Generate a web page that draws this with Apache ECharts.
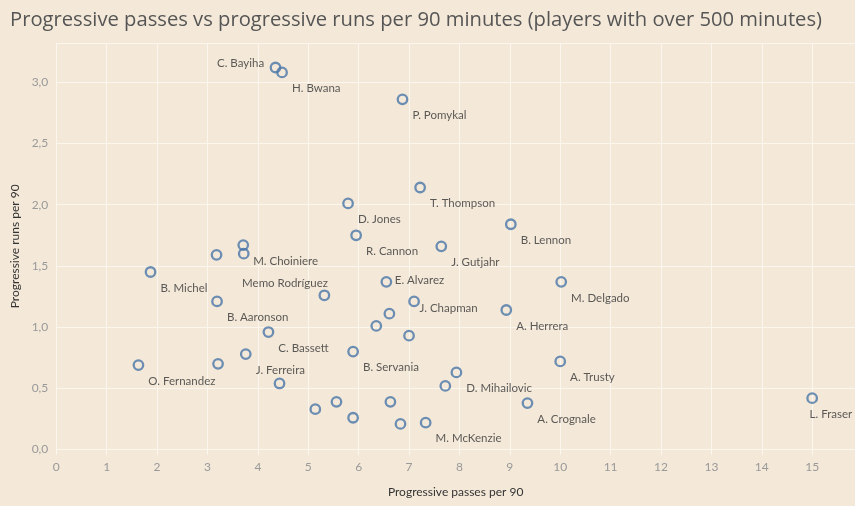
<!DOCTYPE html>
<html><head><meta charset="utf-8">
<script src="https://cdn.jsdelivr.net/npm/echarts@6/dist/echarts.min.js"></script>
<style>html,body{margin:0;padding:0;background:#f4e9d9}#c{width:855px;height:506px}</style>
</head><body><div id="c"></div>
<script>
// ---- data ----
const players = ['C. Bayiha','H. Bwana','P. Pomykal','T. Thompson','D. Jones','R. Cannon','B. Lennon','J. Gutjahr',
  'M. Choiniere','','','B. Michel','E. Alvarez','M. Delgado','Memo Rodríguez','J. Chapman','B. Aaronson','A. Herrera',
  '','','C. Bassett','','B. Servania','J. Ferreira','A. Trusty','O. Fernandez','','D. Mihailovic','','',
  'A. Crognale','L. Fraser','','','','','','M. McKenzie'];
const progPasses = [4.35,4.48,6.87,7.22,5.79,5.95,9.02,7.64,
  3.71,3.72,3.18,1.87,6.55,10.02,5.32,7.10,3.19,8.93,
  6.61,6.35,4.21,7.00,5.89,3.76,10.00,1.63,3.21,7.94,7.72,4.43,
  9.35,15.00,5.14,5.56,5.89,6.63,6.83,7.33];
const progRuns = [3.12,3.08,2.86,2.14,2.01,1.75,1.84,1.66,
  1.67,1.60,1.59,1.45,1.37,1.37,1.26,1.21,1.21,1.14,
  1.11,1.01,0.96,0.93,0.80,0.78,0.72,0.69,0.70,0.63,0.52,0.54,
  0.38,0.42,0.33,0.39,0.26,0.39,0.21,0.22];
const xTitle = 'Progressive passes per 90';
const yTitle = 'Progressive runs per 90';
const chartTitle = 'Progressive passes vs progressive runs per 90 minutes (players with over 500 minutes)';

// ---- label placement styles ----
const defaultLabel = {position:'right', distance:4, offset:[0,16]};
const labelStyles = {
  'C. Bayiha': {position:'left', distance:5.5, offset:[0,-4]},
  'E. Alvarez': {position:'right', distance:2.5, offset:[0,-2]},
  'J. Chapman': {position:'right', distance:-0.5, offset:[0,7]},
  'Memo Rodríguez': {position:'left', distance:0, offset:[9.5,-12]},
  'L. Fraser': {position:'right', distance:0, offset:[-8.5,16]}
};

const font = 'Lato, "Open Sans", sans-serif';
const pts = progPasses.map((x, i) => {
  const name = players[i];
  const ls = labelStyles[name] || defaultLabel;
  return {
    name: name,
    value: [x, progRuns[i]],
    label: Object.assign({show: name !== ''}, ls)
  };
});

const chart = echarts.init(document.getElementById('c'), null, {renderer:'canvas'});
chart.setOption({
  backgroundColor: '#f4e9d9',
  animation: false,
  title: {
    text: chartTitle, left: 5, top: 5,
    textStyle: {fontFamily: '"Open Sans", Lato, sans-serif', fontSize: 20.2, fontWeight: 'normal', color: '#555'}
  },
  grid: {left: 56.3, right: 0, top: 43, bottom: 56.4, containLabel: false},
  xAxis: {
    type: 'value', min: 0, max: 15.85, interval: 1,
    name: xTitle, nameLocation: 'middle', nameGap: 37,
    nameTextStyle: {fontFamily: font, fontSize: 12, color: '#333'},
    axisLine: {show: true, lineStyle: {color: '#fbf6ee', width: 1}},
    axisTick: {show: true, length: 5, lineStyle: {color: '#fbf6ee'}},
    axisLabel: {showMaxLabel: false, margin: 12, fontFamily: font, fontSize: 12, color: '#999'},
    splitLine: {show: true, lineStyle: {color: '#fbf6ee', width: 1}}
  },
  yAxis: {
    type: 'value', min: 0, max: 3.32, interval: 0.5,
    name: yTitle, nameLocation: 'middle', nameGap: 35, nameRotate: 90,
    nameTextStyle: {fontFamily: font, fontSize: 12, color: '#333'},
    axisLine: {show: false}, axisTick: {show: false},
    axisLabel: {showMaxLabel: false, margin: 8, fontFamily: font, fontSize: 12, color: '#999',
      formatter: v => v.toFixed(1).replace('.', ',')},
    splitLine: {show: true, lineStyle: {color: '#fbf6ee', width: 1}}
  },
  series: [{
    type: 'scatter',
    data: pts,
    symbol: 'circle', symbolSize: 9.5,
    itemStyle: {color: 'rgba(0,0,0,0)', borderColor: '#4a76a8', borderWidth: 2.3},
    label: {formatter: '{b}', fontFamily: font, fontSize: 11.5, color: '#333'},
    emphasis: {disabled: true}
  }]
});
</script></body></html>
